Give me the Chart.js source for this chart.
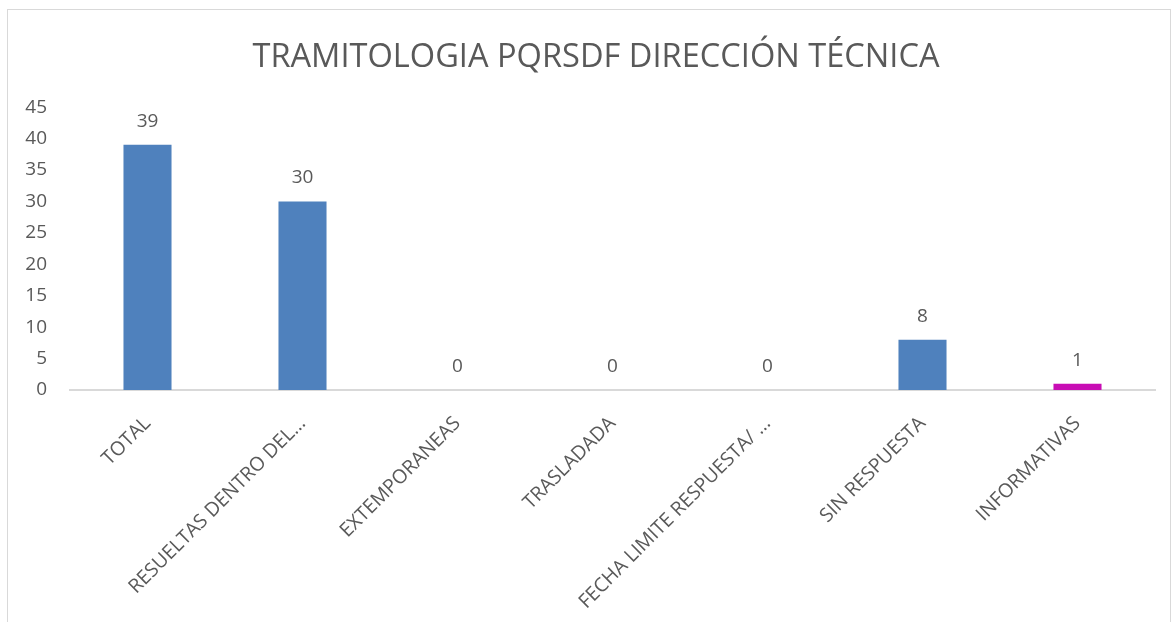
<!DOCTYPE html>
<html>
<head>
<meta charset="utf-8">
<script src="https://cdn.jsdelivr.net/npm/chart.js@4/dist/chart.umd.min.js"></script>
<style>
  html, body { margin: 0; padding: 0; background: #fff; }
  #wrap { position: absolute; left: 0; top: 0; width: 1175px; height: 622px; }
  #frame { position: absolute; left: 7px; top: 9px; width: 1164px; height: 640px; border: 1px solid #d9d9d9; box-sizing: border-box; }
  canvas { position: absolute; left: 0; top: 0; }
</style>
</head>
<body>
<div id="wrap">
  <div id="frame"></div>
  <canvas id="c" width="1175" height="622"></canvas>
</div>
<script>
const categories = ["TOTAL", "RESUELTAS DENTRO DEL…", "EXTEMPORANEAS", "TRASLADADA", "FECHA LIMITE RESPUESTA/ …", "SIN RESPUESTA", "INFORMATIVAS"];
const values = [39, 30, 0, 0, 0, 8, 1];
const barColors = ["#4F81BD", "#4F81BD", "#4F81BD", "#4F81BD", "#4F81BD", "#4F81BD", "#C80DB4"];
const yTicks = [0, 5, 10, 15, 20, 25, 30, 35, 40, 45];
const titleText = "TRAMITOLOGIA PQRSDF DIRECCIÓN TÉCNICA";

const FONT = "'Open Sans', sans-serif";
const TXT = "#595959";

const valueLabels = {
  id: 'valueLabels',
  afterDatasetsDraw(chart) {
    const ctx = chart.ctx;
    const meta = chart.getDatasetMeta(0);
    ctx.save();
    ctx.font = "19px " + FONT;
    ctx.fillStyle = TXT;
    ctx.textAlign = 'center';
    ctx.textBaseline = 'alphabetic';
    meta.data.forEach((bar, i) => {
      ctx.fillText(String(values[i]), bar.x, bar.y - 18);
    });
    ctx.restore();
  }
};

const titleShift = {
  id: 'titleShift',
  afterLayout(chart) {
    if (chart.titleBlock) chart.titleBlock.left += 37;
  }
};

new Chart(document.getElementById('c'), {
  type: 'bar',
  data: {
    labels: categories,
    datasets: [{
      data: values,
      backgroundColor: barColors,
      borderWidth: 0,
      barPercentage: 0.62,
      categoryPercentage: 0.5
    }]
  },
  options: {
    responsive: false,
    animation: false,
    devicePixelRatio: 1,
    layout: { padding: { left: 0, right: 20, top: 0, bottom: 0 } },
    plugins: {
      legend: { display: false },
      tooltip: { enabled: false },
      title: {
        display: true,
        text: titleText,
        color: TXT,
        font: { family: FONT, size: 32.6, weight: 'normal' },
        padding: { top: 38, bottom: 30 }
      }
    },
    scales: {
      x: {
        grid: { display: false, drawTicks: false },
        border: { display: true, color: '#d9d9d9', width: 2 },
        ticks: {
          color: TXT,
          font: { family: FONT, size: 19.5 },
          maxRotation: 45,
          minRotation: 45,
          autoSkip: false,
          padding: 22
        },
        afterFit(scale) { scale.height = 232; }
      },
      y: {
        min: 0,
        max: 45,
        grid: { display: false, drawTicks: false },
        border: { display: false },
        afterBuildTicks(scale) { scale.ticks = yTicks.map(v => ({ value: v })); },
        ticks: {
          color: TXT,
          font: { family: FONT, size: 19 },
          padding: 23
        },
        afterFit(scale) { scale.width = 70; }
      }
    }
  },
  plugins: [valueLabels, titleShift]
});
</script>
</body>
</html>
